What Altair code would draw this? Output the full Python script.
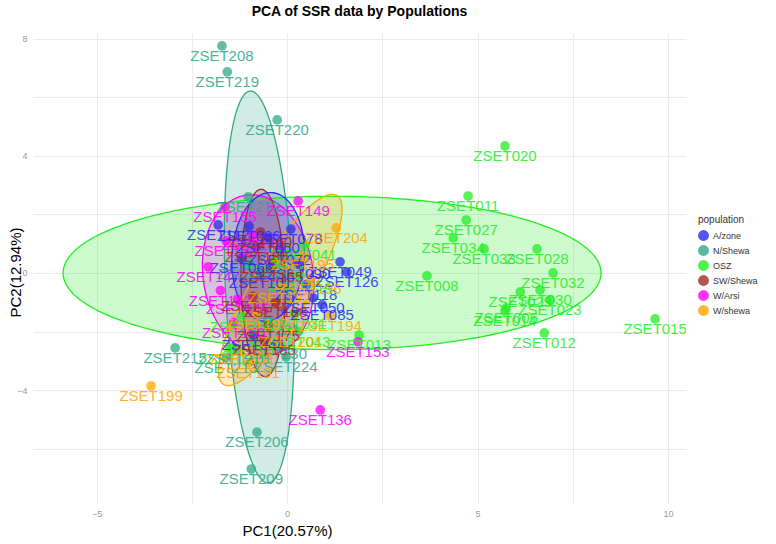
import numpy as np
import pandas as pd
import altair as alt

# ---------------- data ----------------
labels = [
    # OSZ
    "ZSET020", "ZSET011", "ZSET027", "ZSET034", "ZSET033", "ZSET028", "ZSET032", "ZSET008",
    "ZSET030", "ZSET029", "ZSET023", "ZSET006", "ZSET014", "ZSET012", "ZSET015", "ZSET013",
    "ZSET043", "ZSET041", "ZSET054", "ZSET003", "ZSET017", "ZSET022", "ZSET031", "ZSET010",
    # N/Shewa
    "ZSET208", "ZSET219", "ZSET220", "ZSET212", "ZSET215", "ZSET224", "ZSET206", "ZSET209",
    "ZSET230", "ZSET210", "ZSET217", "ZSET221", "ZSET213",
    # W/Arsi
    "ZSET149", "ZSET155", "ZSET147", "ZSET136", "ZSET153", "ZSET138", "ZSET142", "ZSET145",
    "ZSET150", "ZSET140",
    # A/zone
    "ZSET049", "ZSET126", "ZSET085", "ZSET050", "ZSET044", "ZSET112", "ZSET036", "ZSET060",
    "ZSET072", "ZSET090", "ZSET101", "ZSET118", "ZSET066", "ZSET078",
    # SW/Shewa
    "ZSET160", "ZSET165", "ZSET170", "ZSET175", "ZSET180", "ZSET185", "ZSET188",
    # W/shewa
    "ZSET199", "ZSET204", "ZSET194", "ZSET191", "ZSET192", "ZSET195", "ZSET197", "ZSET201",
    "ZSET203", "ZSET196",
]
pc1 = [
    5.72, 4.75, 4.70, 4.36, 5.17, 6.56, 6.98, 3.67,
    6.64, 6.12, 6.90, 5.75, 5.72, 6.75, 9.66, 1.89,
    0.30, 0.47, 0.34, -1.20, -0.90, -1.50, 0.20, -0.30,
    -1.71, -1.57, -0.26, -1.02, -2.94, -0.03, -0.79, -0.94,
    -0.31, -1.30, -1.00, -0.50, -1.60,
    0.29, -1.63, -2.07, 0.87, 1.86, -1.60, -1.75, -1.30,
    -1.40, -0.90,
    1.39, 1.57, 0.92, 0.68, -0.89, -1.81, -1.00, -0.50,
    -0.20, 0.30, -0.70, 0.50, -1.20, 0.10,
    -0.70, -0.40, -0.90, -0.50, -0.80, -0.60, -0.30,
    -3.57, 1.29, 1.13, -1.02, -0.20, 0.40, -0.80, 0.10,
    -1.20, 0.60,
]
pc2 = [
    4.34, 2.63, 1.81, 1.20, 0.82, 0.82, 0.00, -0.10,
    -0.58, -0.65, -0.92, -1.20, -1.30, -2.05, -1.57, -2.12,
    -2.00, 0.96, -0.10, -1.50, -2.30, -2.60, -1.40, 0.40,
    7.76, 6.87, 5.23, 2.60, -2.56, -2.87, -5.44, -6.70,
    -2.43, -2.60, 0.30, -1.60, -2.90,
    2.46, 2.26, 0.21, -4.68, -2.35, 1.10, -0.60, -0.90,
    -1.70, 1.30,
    0.38, 0.03, -1.09, -0.85, -2.12, 1.64, 1.60, 1.20,
    0.80, 0.30, 0.00, -0.40, 0.50, 1.50,
    1.40, 0.20, -0.80, -1.80, 0.90, -2.30, -1.00,
    -3.86, 1.54, -1.47, -3.08, -0.50, 0.60, -1.40, -2.00,
    -2.60, -0.20,
]
pops = (["OSZ"] * 24 + ["N/Shewa"] * 13 + ["W/Arsi"] * 10 + ["A/zone"] * 14
        + ["SW/Shewa"] * 7 + ["W/shewa"] * 10)

pop_levels = ["A/zone", "N/Shewa", "OSZ", "SW/Shewa", "W/Arsi", "W/shewa"]
pop_colors = ["#2a2af0", "#2fa886", "#22ee22", "#a52a2a", "#ff00ff", "#ffa500"]

# ellipse parameters (centre, semi-axes, major-axis angle in data space)
ell_pop = ["OSZ", "N/Shewa", "W/Arsi", "SW/Shewa", "W/shewa", "A/zone"]
ell_cx = [1.18, -0.73, -0.76, -0.63, -0.18, -0.50]
ell_cy = [0.00, -0.48, -0.07, -0.34, -0.58, 0.55]
ell_a = [7.06, 6.70, 2.75, 3.20, 3.56, 2.20]
ell_b = [2.62, 0.89, 1.45, 0.58, 0.80, 0.95]
ell_deg = [0.0, 92.0, 95.0, 91.0, 66.0, 88.0]

x_domain = [-6.67, 10.47]
y_domain = [-7.86, 8.2]

# --------------- build tables ---------------
pts = pd.DataFrame({"label": labels, "pc1": pc1, "pc2": pc2, "population": pops})

outline_rows = []
band_rows = []
for p, cx, cy, a, b, deg in zip(ell_pop, ell_cx, ell_cy, ell_a, ell_b, ell_deg):
    th = np.deg2rad(deg)
    t = np.linspace(0, 2 * np.pi, 181)
    u = a * np.cos(t)
    v = b * np.sin(t)
    xs = cx + u * np.cos(th) - v * np.sin(th)
    ys = cy + u * np.sin(th) + v * np.cos(th)
    for i, (xx, yy) in enumerate(zip(xs, ys)):
        outline_rows.append({"population": p, "x": xx, "y": yy, "o": i})
    dxmax = np.sqrt((a * np.cos(th)) ** 2 + (b * np.sin(th)) ** 2)
    s = np.linspace(0, np.pi, 121)
    dx = dxmax * np.cos(s) * 0.99999
    A = np.sin(th) ** 2 / a ** 2 + np.cos(th) ** 2 / b ** 2
    B = 2 * dx * np.cos(th) * np.sin(th) * (1 / a ** 2 - 1 / b ** 2)
    C = dx ** 2 * (np.cos(th) ** 2 / a ** 2 + np.sin(th) ** 2 / b ** 2) - 1
    disc = np.clip(B ** 2 - 4 * A * C, 0, None)
    y1 = cy + (-B - np.sqrt(disc)) / (2 * A)
    y2 = cy + (-B + np.sqrt(disc)) / (2 * A)
    for xx, lo, hi in zip(cx + dx, y1, y2):
        band_rows.append({"population": p, "x": xx, "ylo": lo, "yhi": hi})

outline = pd.DataFrame(outline_rows)
band = pd.DataFrame(band_rows)

color_scale = alt.Scale(domain=pop_levels, range=pop_colors)
xs_ = alt.Scale(domain=x_domain, nice=False, zero=False)
ys_ = alt.Scale(domain=y_domain, nice=False, zero=False)

legend = alt.Legend(
    title="population", orient="none", legendX=665, legendY=182,
    titleFontSize=10, titleFontWeight="normal", titleColor="#333333",
    labelFontSize=9, labelColor="#333333", symbolSize=120, symbolType="circle",
    symbolOpacity=0.8, symbolStrokeWidth=0, rowPadding=4,
)
color_enc = alt.Color("population:N", scale=color_scale, legend=legend)

x_axis = alt.Axis(
    values=[-5, -2.5, 0, 2.5, 5, 7.5, 10],
    labelExpr="datum.value % 5 == 0 ? datum.label : ''",
    title="PC1(20.57%)", titleFontSize=15, titleFontWeight="normal", titleColor="black",
    titleX=254, titleY=27, titleBaseline="middle", titleAnchor="start", titleAlign="center",
    labelFontSize=9, labelColor="#9a9a9a", labelPadding=6,
)
y_axis = alt.Axis(
    values=[-6, -4, -2, 0, 2, 4, 6, 8],
    labelExpr="datum.value % 4 == 0 ? datum.label : ''",
    title="PC2(12.94%)", titleFontSize=15, titleFontWeight="normal", titleColor="black",
    titleX=-18, titleY=239, titleBaseline="middle", titleAlign="center", titleAngle=-90,
    labelFontSize=9, labelColor="#9a9a9a", labelPadding=6,
)

fill = alt.Chart(band).mark_area(opacity=0.22, clip=True).encode(
    x=alt.X("x:Q", scale=xs_, axis=x_axis),
    y=alt.Y("ylo:Q", scale=ys_, axis=y_axis),
    y2="yhi:Q",
    color=color_enc,
    detail="population:N",
)

line = alt.Chart(outline).mark_line(strokeWidth=1.3, clip=True).encode(
    x=alt.X("x:Q", scale=xs_),
    y=alt.Y("y:Q", scale=ys_),
    color=color_enc,
    detail="population:N",
    order="o:Q",
)

points = alt.Chart(pts).mark_circle(size=95, opacity=0.75, clip=True).encode(
    x=alt.X("pc1:Q", scale=xs_),
    y=alt.Y("pc2:Q", scale=ys_),
    color=color_enc,
)

text = alt.Chart(pts).mark_text(
    dy=10, fontSize=15, font="Liberation Sans", opacity=0.85, clip=True
).encode(
    x=alt.X("pc1:Q", scale=xs_),
    y=alt.Y("pc2:Q", scale=ys_),
    text="label:N",
    color=color_enc,
)

chart = (
    alt.layer(fill, line, points, text)
    .properties(
        width=653, height=470,
        title=alt.TitleParams("PCA of SSR data by Populations", fontSize=14, fontWeight="bold",
                              anchor="middle", offset=14, font="Liberation Sans", color="black"),
        autosize=alt.AutoSizeParams(type="none"),
        padding={"left": 33, "top": 33, "right": 90, "bottom": 41},
    )
    .configure_view(stroke=None)
    .configure_axis(domain=False, ticks=False, gridColor="#ebebeb", gridWidth=1,
                    labelFont="Liberation Sans", titleFont="Liberation Sans")
    .configure_legend(labelFont="Liberation Sans", titleFont="Liberation Sans")
)

chart.save("out.html", embed_options={"renderer": "svg", "actions": False})
